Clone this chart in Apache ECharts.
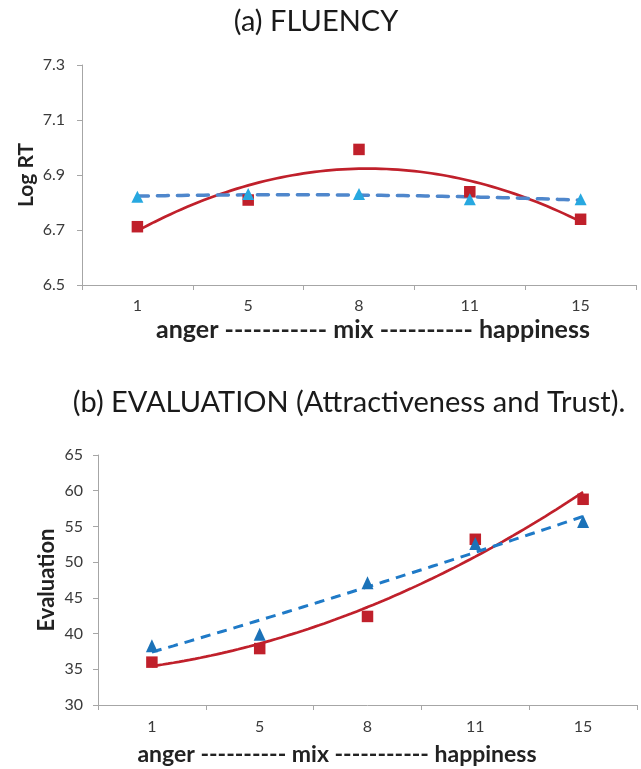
<!DOCTYPE html>
<html>
<head>
<meta charset="utf-8">
<script src="https://cdn.jsdelivr.net/npm/echarts@6/dist/echarts.min.js"></script>
<style>html,body{margin:0;padding:0;background:#fff}#c{width:641px;height:769px}</style>
</head>
<body>
<div id="c"></div>
<script>
// ---- data ----
const categories = ['1', '5', '8', '11', '15'];
const fluencyRed = [6.712, 6.809, 6.993, 6.839, 6.739];
const fluencyBlue = [6.821, 6.831, 6.831, 6.812, 6.812];
const evalRed = [36.0, 37.9, 42.4, 53.2, 58.8];
const evalBlue = [38.3, 39.9, 47.1, 52.6, 55.7];
const fluencyTicks = [6.5, 6.7, 6.9, 7.1, 7.3];
const evalTicks = [30, 35, 40, 45, 50, 55, 60, 65];
const titleA = '(a) FLUENCY';
const titleB = '(b) EVALUATION (Attractiveness and Trust).';
const xNameA = 'anger ----------- mix ---------- happiness';
const xNameB = 'anger ---------- mix ----------- happiness';
const yNameA = 'Log RT';
const yNameB = 'Evaluation';

// quadratic least-squares trendline (as in the spreadsheet) on x = 1..n
function quadFit(ys) {
  const n = ys.length;
  let S = [0,0,0,0,0], T = [0,0,0];
  for (let i = 0; i < n; i++) {
    const x = i + 1;
    for (let k = 0; k < 5; k++) S[k] += Math.pow(x, k);
    for (let k = 0; k < 3; k++) T[k] += ys[i] * Math.pow(x, k);
  }
  const A = [[S[0],S[1],S[2],T[0]],[S[1],S[2],S[3],T[1]],[S[2],S[3],S[4],T[2]]];
  for (let i = 0; i < 3; i++) {
    for (let j = i + 1; j < 3; j++) {
      const f = A[j][i] / A[i][i];
      for (let k = i; k < 4; k++) A[j][k] -= f * A[i][k];
    }
  }
  const c = [0,0,0];
  for (let i = 2; i >= 0; i--) {
    let s = A[i][3];
    for (let k = i + 1; k < 3; k++) s -= A[i][k] * c[k];
    c[i] = s / A[i][i];
  }
  const pts = [];
  for (let s = 0; s <= 80; s++) {
    const x = 1 + (n - 1) * s / 80;
    pts.push([x, c[0] + c[1] * x + c[2] * x * x]);
  }
  return pts;
}

const FONT = 'Lato';
const red = '#C0202B';
const axisGray = '#A6A6A6';
const labelColor = '#3a3a3a';

function catAxis(gridIndex, margin) {
  return {
    type: 'category', gridIndex, data: categories, boundaryGap: true,
    axisLine: { lineStyle: { color: axisGray, width: 1 } },
    axisTick: { show: true, alignWithLabel: false, length: 5, lineStyle: { color: axisGray } },
    axisLabel: { color: labelColor, fontFamily: FONT, fontSize: 16, margin },
    splitLine: { show: false }
  };
}
function valXAxis(gridIndex) {
  return { type: 'value', gridIndex, min: 0.5, max: 5.5, show: false, splitLine: { show: false } };
}
function valYAxis(gridIndex, min, max, interval, name, gap, nameSize, margin) {
  return {
    type: 'value', gridIndex, min, max, interval,
    name, nameLocation: 'middle', nameGap: gap, nameRotate: 90, nameMoveOverlap: false,
    nameTextStyle: { fontFamily: FONT, fontWeight: 'bold', fontSize: nameSize, color: '#222' },
    axisLine: { show: true, lineStyle: { color: axisGray } },
    axisTick: { show: true, length: 5, lineStyle: { color: axisGray } },
    axisLabel: {
      color: labelColor, fontFamily: FONT, fontSize: 16, margin,
      formatter: v => (interval < 1 ? v.toFixed(1) : String(Math.round(v)))
    },
    splitLine: { show: false }
  };
}

const option = {
  animation: false,
  backgroundColor: '#fff',
  grid: [
    { left: 82, right: 5, top: 65, height: 220 },
    { left: 98, right: 4, top: 455, height: 250 }
  ],
  xAxis: [catAxis(0, 13), valXAxis(0), catAxis(1, 14), valXAxis(1)],
  yAxis: [
    valYAxis(0, fluencyTicks[0], fluencyTicks[fluencyTicks.length - 1], 0.2, yNameA, 45, 21, 17),
    valYAxis(1, evalTicks[0], evalTicks[evalTicks.length - 1], 5, yNameB, 40, 22, 15)
  ],
  graphic: [
    { type: 'text', style: { text: titleA, x: 316, y: 22, textAlign: 'center', textVerticalAlign: 'middle', fontFamily: FONT, fontSize: 29, fill: '#1a1a1a' } },
    { type: 'text', style: { text: titleB, x: 349, y: 403, textAlign: 'center', textVerticalAlign: 'middle', fontFamily: FONT, fontSize: 29, fill: '#1a1a1a' } },
    { type: 'text', style: { text: xNameA, x: 373, y: 330, textAlign: 'center', textVerticalAlign: 'middle', fontFamily: FONT, fontWeight: 'bold', fontSize: 25, fill: '#222' } },
    { type: 'text', style: { text: xNameB, x: 337, y: 755, textAlign: 'center', textVerticalAlign: 'middle', fontFamily: FONT, fontWeight: 'bold', fontSize: 23, fill: '#222' } }
  ],
  series: [
    { type: 'line', xAxisIndex: 1, yAxisIndex: 0, data: quadFit(fluencyRed), showSymbol: false, lineStyle: { color: red, width: 2.7 }, z: 2 },
    { type: 'line', xAxisIndex: 1, yAxisIndex: 0, data: quadFit(fluencyBlue), showSymbol: false, lineStyle: { color: '#4F87CC', width: 3.5, type: [11, 9], cap: 'round' }, z: 2 },
    { type: 'scatter', xAxisIndex: 0, yAxisIndex: 0, data: fluencyRed, symbol: 'rect', symbolSize: 11.5, itemStyle: { color: red, opacity: 1 }, z: 3 },
    { type: 'scatter', xAxisIndex: 0, yAxisIndex: 0, data: fluencyBlue, symbol: 'triangle', symbolSize: 12, itemStyle: { color: '#27A8E0', opacity: 1 }, z: 4 },

    { type: 'line', xAxisIndex: 3, yAxisIndex: 1, data: quadFit(evalRed), showSymbol: false, lineStyle: { color: red, width: 2.7 }, z: 2 },
    { type: 'line', xAxisIndex: 3, yAxisIndex: 1, data: quadFit(evalBlue), showSymbol: false, lineStyle: { color: '#1F7AC7', width: 3, type: [10, 7] }, z: 2 },
    { type: 'scatter', xAxisIndex: 2, yAxisIndex: 1, data: evalRed, symbol: 'rect', symbolSize: 11.5, itemStyle: { color: red, opacity: 1 }, z: 3 },
    { type: 'scatter', xAxisIndex: 2, yAxisIndex: 1, data: evalBlue, symbol: 'triangle', symbolSize: [12, 13], itemStyle: { color: '#1B72B8', opacity: 1 }, z: 4 }
  ]
};

const chart = echarts.init(document.getElementById('c'));
chart.setOption(option);
</script>
</body>
</html>
